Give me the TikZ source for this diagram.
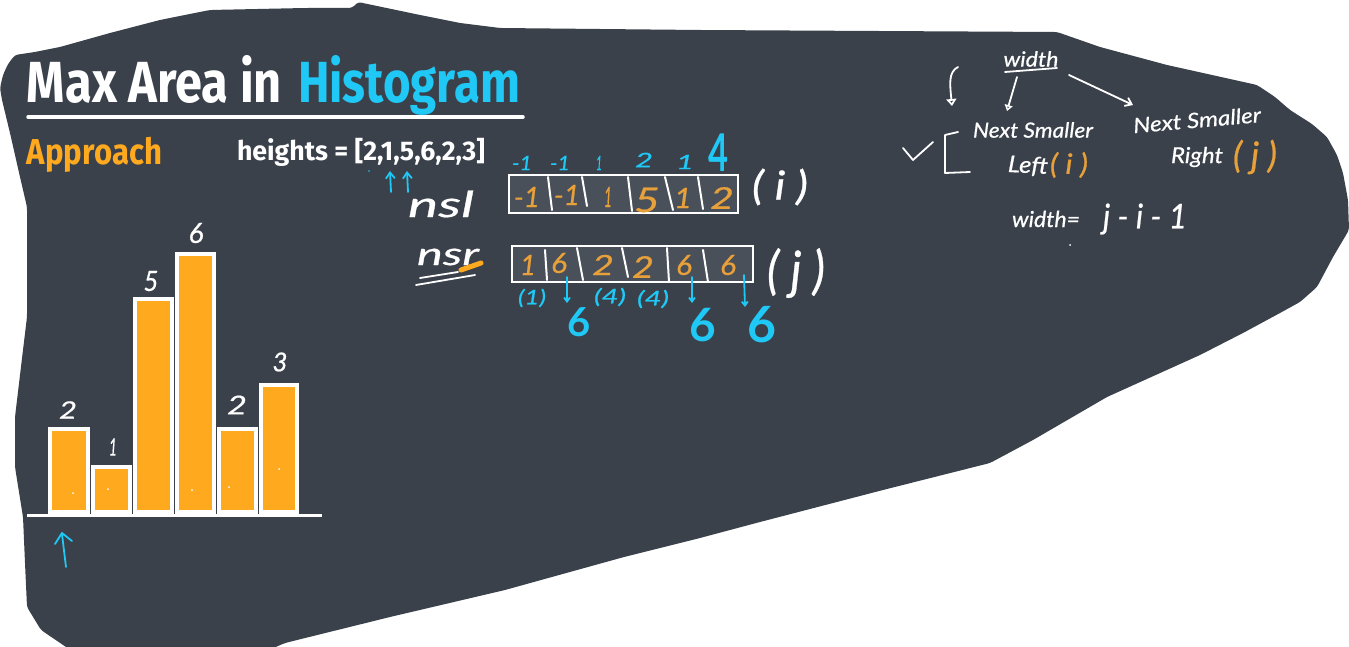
\documentclass[tikz,border=0pt]{standalone}
\usepackage{fontspec}
\usetikzlibrary{arrows.meta}
\setmainfont{Lato}
\newfontfamily\headfont{Fira Sans}[UprightFont=*,BoldFont=* Bold]
\newfontfamily\handfont{Lato}[ItalicFont=* Italic,ItalicFeatures={FakeBold=0.6}]
\definecolor{slate}{HTML}{3A414B}
\definecolor{cellfill}{HTML}{4A5059}
\definecolor{amber}{HTML}{FFA91F}
\definecolor{pen}{HTML}{E8A03A}
\definecolor{sky}{HTML}{1FC8F5}
\newcommand{\fitw}[2]{\resizebox{#1pt}{\height}{#2}}
\newcommand{\hw}[3]{\resizebox{#1pt}{\height}{\handfont\itshape\fontsize{#2}{#2}\selectfont #3}}
\newcommand{\hb}[2]{{\handfont\fontseries{b}\fontsize{#1}{#1}\selectfont #2}}
\newcommand{\barrect}[4]{\fill[white] (#1,#3) rectangle (#2,#4); \fill[amber] (#1+4,#3+4) rectangle (#2-4,#4-4);}
\tikzset{
  lbl/.style={inner sep=0pt,outer sep=0pt},
  ink/.style={lbl,text=white},
  cyanink/.style={lbl,text=sky},
  orangeink/.style={lbl,text=pen},
  stroke/.style={white,line width=1.8pt,line cap=round,line join=round},
  bluestroke/.style={sky,line width=1.8pt,line cap=round,line join=round},
  barb/.style={-{Straight Barb[length=6pt,width=9pt]}},
  smallbarb/.style={-{Straight Barb[length=4pt,width=6pt]}},
  divider/.style={white,line width=2pt,line cap=round},
  cellbox/.style={draw=white,fill=cellfill,line width=2pt},
}
\begin{document}
\begin{tikzpicture}[x=1pt,y=-1pt]
\useasboundingbox (0,0) rectangle (1349,647);
\fill[slate,rounded corners=3pt] (0,88)--(3,75)--(8,64)--(15,55)--(35,52)--(60,47)--(110,33)--(160,20)--(210,10)--(305,8)--(352,8)--(358,2)--(420,15)--(460,23)--(500,28)--(700,30)--(1057,32)--(1100,47)--(1167,65)--(1257,85)--(1275,97)--(1290,110)--(1312,124)--(1327,137)--(1337,155)--(1343,173)--(1348,200)--(1349,230)--(1333,257)--(1317,287)--(1300,302)--(1280,313)--(1243,333)--(1200,355)--(1107,397)--(1033,440)--(990,463)--(883,490)--(760,522)--(700,538)--(624,557)--(505,590)--(390,617)--(285,643)--(271,649)--(69,649)--(41,630)--(27,607)--(25,563)--(23,517)--(15,467)--(15,417)--(23,350)--(27,317)--(27,207)--(20,177)--(10,133)--(2,100)--cycle;

% title block
\node[lbl,anchor=base west,text=white] (title) at (27,103) {\fitw{255}{\headfont\bfseries\fontsize{58}{58}\selectfont Max Area in}};
\node[lbl,anchor=base west,text=sky] (title2) at (298,103) {\fitw{222}{\headfont\bfseries\fontsize{58}{58}\selectfont Histogram}};
\draw[white,line width=3.5pt,line cap=round] (28,117) -- (523,117);
\node[lbl,anchor=base west,text=amber] (approach) at (27,165) {\fitw{135}{\headfont\bfseries\fontsize{36}{36}\selectfont Approach}};
\node[lbl,anchor=base west,text=white] (heights) at (237,161) {\fitw{248}{\headfont\bfseries\fontsize{27}{27}\selectfont heights = [2,1,5,6,2,3]}};
\draw[bluestroke,barb] (391,192) -- (390,171);
\draw[bluestroke,barb] (408,192) -- (407,171);
\fill[sky] (369,171) circle (0.9);

% histogram
\barrect{48}{90}{427}{514}
\barrect{90.5}{132}{465}{514}
\barrect{132.5}{174}{297}{514}
\barrect{174.5}{216}{252}{514}
\barrect{216.5}{258}{427}{514}
\barrect{258.5}{299}{383}{514}
\draw[white,line width=3pt] (27,515.5) -- (322,515.5);
\foreach \p in {(73,493),(108,489),(192,490),(229,487),(279,469)} \fill[white] \p circle (1);
\node[ink] (b1) at (68,410) {\hw{18}{24}{2}};
\node[ink] (b2) at (113,447) {\hw{8}{24}{1}};
\node[ink] (b3) at (151,281) {\hw{15}{28}{5}};
\node[ink] (b4) at (196,233) {\hw{15}{28}{6}};
\node[ink] (b5) at (237,405) {\hw{20}{26}{2}};
\node[ink] (b6) at (280,362) {\hw{15}{26}{3}};
\draw[bluestroke] (66,567) -- (62,534);
\draw[bluestroke] (55,544) -- (62,533) -- (72,541);

% nsl row
\node[ink] (nsl) at (441,204) {\hw{66}{36}{nsl}};
\node[cellbox,lbl,anchor=north west,minimum width=229pt,minimum height=38pt] (boxl) at (509,175) {};
\draw[divider] (548,177) -- (552,210);
\draw[divider] (582,177) -- (587,206);
\draw[divider] (628,177) -- (632,211);
\draw[divider] (665,177) -- (673,210);
\draw[divider] (698,177) -- (703,209);
\node[orangeink] (l1) at (527,197) {\hw{26}{28}{-1}};
\node[orangeink] (l2) at (567,195) {\hw{26}{28}{-1}};
\node[orangeink] (l3) at (608,197) {\hw{8}{28}{1}};
\node[orangeink] (l4) at (647,200) {\hw{26}{34}{5}};
\node[orangeink] (l5) at (683,198) {\hw{18}{28}{1}};
\node[orangeink] (l6) at (722,198) {\hw{24}{30}{2}};
\node[cyanink] (t1) at (522,163) {\hw{20}{20}{-1}};
\node[cyanink] (t2) at (560,163) {\hw{20}{20}{-1}};
\node[cyanink] (t3) at (599,163) {\hw{6}{20}{1}};
\node[cyanink] (t4) at (644,160) {\hw{18}{20}{2}};
\node[cyanink] (t5) at (685,162) {\hw{18}{20}{1}};
\node[cyanink] (t6) at (718,153) {\resizebox{20pt}{\height}{\hb{52}{4}}};
\node[ink] (iname) at (780,187) {\hw{56}{40}{( i )}};

% nsr row
\node[ink] (nsr) at (448,257) {\hw{62}{32}{nsr}};
\draw[stroke] (420,278) -- (458,272);
\draw[stroke] (416,285) -- (475,275);
\draw[amber,line width=5pt,line cap=round] (461,270) -- (481,263);
\node[cellbox,lbl,anchor=north west,minimum width=241pt,minimum height=36pt] (boxr) at (512,246) {};
\draw[divider] (545,250) -- (547,280);
\draw[divider] (577,248) -- (583,280);
\draw[divider] (622,248) -- (628,277);
\draw[divider] (667,248) -- (669,282);
\draw[divider] (703,250) -- (708,282);
\node[orangeink] (r1) at (528,265) {\hw{16}{28}{1}};
\node[orangeink] (r2) at (559,263) {\hw{16}{28}{6}};
\node[orangeink] (r3) at (603,265) {\hw{22}{28}{2}};
\node[orangeink] (r4) at (643,267) {\hw{22}{30}{2}};
\node[orangeink] (r5) at (684,265) {\hw{16}{28}{6}};
\node[orangeink] (r6) at (728,265) {\hw{16}{28}{6}};
\node[cyanink] (u1) at (532,298) {\hw{28}{20}{(1)}};
\node[cyanink] (u2) at (610,297) {\hw{32}{20}{(4)}};
\node[cyanink] (u3) at (653,299) {\hw{32}{20}{(4)}};
\node[cyanink] (s1) at (579,322) {\hb{40}{6}};
\node[cyanink] (s2) at (703,325) {\hb{46}{6}};
\node[cyanink] (s3) at (762,325) {\hb{50}{6}};
\draw[bluestroke,smallbarb] ([shift={(8,14)}]r2.center) -- ([shift={(-12,-19)}]s1.center);
\draw[bluestroke,smallbarb] ([shift={(8,12)}]r5.center) -- ([shift={(-11,-22)}]s2.center);
\draw[bluestroke,smallbarb] ([shift={(16,10)}]r6.center) -- ([shift={(-17,-18)}]s3.center);
\node[ink] (jname) at (796,273) {\hw{58}{52}{( j )}};

% upper right notes
\node[ink] (wd) at (1031,59) {\hw{55}{21}{width}};
\draw[stroke] (1005,72) -- (1057,68);
\node[ink] (nl) at (1033,130) {\hw{120}{21}{Next Smaller}};
\node[ink,rotate=5] (nr) at (1197,120) {\hw{128}{21}{Next Smaller}};
\node[ink,rotate=-3] at (1028,166) (lf) {\hw{40}{23}{Left}};
\node[lbl,text=pen] (li) at (1069,165) {\hw{38}{28}{( i )}};
\node[ink] (rt) at (1197,157) {\hw{52}{22}{Right}};
\node[lbl,text=pen] (rj) at (1255,157) {\hw{44}{36}{( j )}};
\node[ink] (we) at (1046,219) {\hw{68}{22}{width=}};
\node[ink] (fm) at (1145,219) {\hw{84}{34}{j - i - 1}};
\draw[stroke,-{Triangle[open,length=6pt,width=8pt]}] ([shift={(-14,18)}]wd.center) -- ([shift={(-26,-19)}]nl.center);
\draw[stroke,barb] ([shift={(38,16)}]wd.center) -- ([shift={(-64,-15)}]nr.center);
\draw[stroke,-{Triangle[open,length=7pt,width=10pt]}] (958,67) .. controls (948,72) and (950,85) .. (952,106);
\draw[stroke] (903,148) -- (913,160) -- (933,142);
\draw[stroke] (958,132) -- (945,135) -- (945,173) -- (970,172);
\fill[white] (1070,245) circle (1);
\end{tikzpicture}
\end{document}
